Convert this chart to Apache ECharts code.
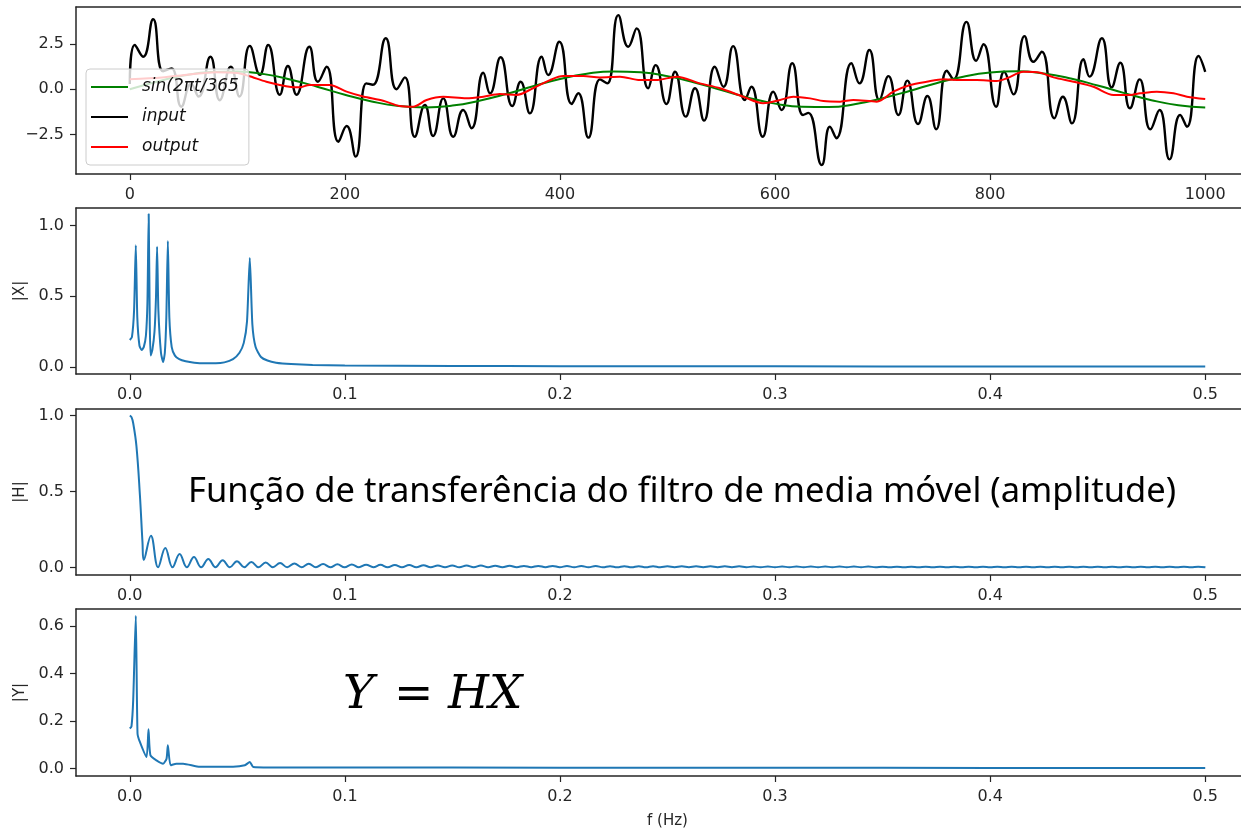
<!DOCTYPE html>
<html>
<head>
<meta charset="utf-8">
<script src="https://cdn.jsdelivr.net/npm/echarts@6/dist/echarts.min.js"></script>
<style>html,body{margin:0;background:#fff;overflow:hidden}#c{width:1300px;height:832px}</style>
</head>
<body>
<div id="c"></div>
<script>
// ---- panel 1: time signals (t, value) ----
const inputPts = [[0,0.3],[4.6,2.45],[12.4,1.8],[21.7,3.87],[31,1.0],[38.8,1.16],[48,-0.96],[57,0.3],[64,-0.4],[75,1.8],
  [83.7,-0.6],[94,1.25],[102,-0.4],[111.6,2.4],[121,0.8],[128.7,2.45],[139.5,-0.3],[147,1.29],[155,-0.3],[167,2.35],
  [175,0.42],[183,1.25],[194,-2.9],[201.6,-2.03],[210,-3.72],[220,0.33],[226,0.25],[238,2.82],[248,0],[255.8,0.66],
  [265,-2.62],[274.4,-0.87],[282,-2.58],[291.5,-0.5],[300.8,-2.62],[310,-1.14],[317.8,-2.15],[328.7,0.92],[335,-0.22],[344.8,1.77],
  [355.7,-0.92],[363.4,0.42],[372,-1.33],[383,1.8],[389,0.79],[399.4,2.63],[410.9,-0.81],[417,-0.22],[426.4,-2.67],[437.2,0.55],
  [444,0.33],[454.3,4.1],[463.5,2.35],[471.3,3.37],[482,0.06],[489,1.34],[499,-0.81],[507,0.97],[517,-1.51],[525.6,0.06],
  [534,-1.73],[544,1.25],[552,0.14],[561,2.39],[572,-0.59],[578,0.14],[588.5,-2.62],[598.4,-0.13],[606,-1.14],[616,1.44],
  [626,-1.42],[631,-1.3],[643.4,-4.18],[651,-2.07],[657,-2.7],[671,1.44],[678.5,0.33],[687.7,2.17],[697,-0.59],[705.4,0.73],
  [714.7,-1.42],[723,0.48],[733,-1.92],[741.7,-0.37],[749.8,-2.21],[759.7,1.03],[766,0.55],[778,3.73],[787,1.58],[793.8,2.49],
  [805.6,-0.96],[813,0.97],[821.7,-0.28],[832,2.94],[840.3,1.52],[848,2.08],[859.8,-1.6],[867.6,-0.41],[876,-1.88],[886.8,1.66],
  [892.4,0.7],[903.9,2.82],[913,0.11],[921,1.47],[930,-1.05],[939,0.55],[949,-2.21],[957.5,-1.14],[966.8,-3.87],[976.7,-1.42],
  [983,-2.07],[993.8,1.84],[1000,0.97]];

const sinPts = [[0,0],[25,0.42],[50,0.76],[75,0.96],[100,0.99],[125,0.84],[150,0.53],[175,0.13],[200,-0.3],[225,-0.67],
  [250,-0.92],[275,-1.0],[300,-0.9],[325,-0.63],[350,-0.26],[375,0.17],[400,0.57],[425,0.86],[450,0.99],[475,0.94],
  [500,0.73],[525,0.38],[550,-0.04],[575,-0.46],[600,-0.79],[625,-0.97],[650,-0.98],[675,-0.81],[700,-0.49],[725,-0.09],
  [750,0.34],[775,0.7],[800,0.93],[825,1.0],[850,0.88],[875,0.6],[900,0.21],[925,-0.21],[950,-0.6],[975,-0.88],[1000,-1.0]];

const outputPts = [[0,0.55],[30,0.65],[55,0.82],[80,0.95],[100,0.9],[110,0.75],[127,0.42],[139.5,0.24],[150,0.13],[158,0.11],
  [167,0.24],[186,0.24],[201.6,-0.13],[217,-0.4],[235.6,-0.63],[251,-0.92],[263.5,-0.96],[276,-0.59],[291.5,-0.41],[313,-0.5],
  [328.7,-0.41],[344,-0.26],[359.7,-0.31],[375,0.06],[390.7,0.51],[403,0.73],[421.7,0.73],[437,0.66],[455.8,0.7],[474.4,0.51],
  [489.4,0.51],[508.6,0.7],[530,0.33],[548.8,0.06],[570.5,-0.41],[589,-0.77],[604.7,-0.59],[617,-0.41],[632.6,-0.5],[645,-0.65],
  [660.5,-0.68],[672.8,-0.59],[694.6,-0.68],[710,-0.13],[725.6,0.24],[741,0.42],[756.6,0.55],[772,0.51],[787.6,0.51],[806,0.46],
  [815.5,0.61],[831,0.97],[846.5,0.92],[859,0.66],[877.5,0.42],[896,0.14],[914.7,-0.31],[930,-0.31],[939.5,-0.22],[955,-0.13],
  [970.5,-0.22],[983,-0.41],[1000,-0.54]];

// ---- panel 2: |X| (f, value) ----
const xMagPts = [[0,0.19],[0.001,0.21],[0.002,0.4],[0.0028,0.86],[0.0035,0.35],[0.0045,0.15],[0.0055,0.12],[0.0065,0.14],
  [0.0075,0.22],[0.0082,0.45],[0.0088,1.08],[0.0093,0.3],[0.0097,0.08],[0.0105,0.12],[0.0115,0.25],[0.0122,0.5],[0.0127,0.85],
  [0.0133,0.4],[0.0145,0.1],[0.0155,0.035],[0.0163,0.1],[0.017,0.35],[0.0177,0.89],[0.0184,0.35],[0.0195,0.14],[0.021,0.08],
  [0.023,0.055],[0.026,0.04],[0.03,0.03],[0.035,0.026],[0.04,0.026],[0.044,0.032],[0.048,0.055],[0.051,0.1],[0.053,0.17],
  [0.0545,0.32],[0.0558,0.77],[0.057,0.3],[0.0585,0.14],[0.061,0.07],[0.064,0.045],[0.068,0.03],[0.075,0.02],[0.085,0.013],
  [0.1,0.01],[0.15,0.007],[0.2,0.005],[0.3,0.004],[0.4,0.0035],[0.5,0.003]];

// ---- panel 3: |H| ----
const hMainLobe = [[0,1.0],[0.0008,0.99],[0.0016,0.95],[0.0031,0.8],[0.0047,0.48],[0.0059,0.17],[0.0065,0.05]];
const hRippleStart = 0.0065;   // first null
const hRipplePeriod = 0.00667; // spacing of the nulls
const hRippleFloor = 0.003;
const hRipplePeaks = [0.21,0.13,0.09,0.07,0.058,0.049,0.043,0.038,0.034,0.031,
  0.028,0.026,0.024,0.022,0.021,0.020,0.019,0.018,0.017,0.016,
  0.015,0.015,0.014,0.014,0.013,0.013,0.012,0.012,0.012,0.011,
  0.011,0.011,0.010,0.010,0.010,0.010,0.009,0.009,0.009,0.009,
  0.009,0.009,0.008,0.008,0.008,0.008,0.008,0.008,0.008,0.008,
  0.008,0.007,0.007,0.007,0.007,0.007,0.007,0.007,0.007,0.007,
  0.007,0.007,0.007,0.007,0.007,0.007,0.007,0.007,0.007,0.007,
  0.007,0.007,0.007,0.007];

// ---- panel 4: |Y| ----
const yMagPts = [[0,0.169],[0.0008,0.178],[0.0016,0.29],[0.0028,0.643],[0.0036,0.148],[0.0047,0.112],[0.0078,0.049],
  [0.0087,0.165],[0.0096,0.056],[0.0124,0.035],[0.0155,0.021],[0.0171,0.042],[0.0177,0.098],[0.019,0.014],[0.0217,0.021],
  [0.0248,0.021],[0.0326,0.008],[0.048,0.008],[0.0535,0.014],[0.0558,0.028],[0.0574,0.007],[0.065,0.005],[0.1,0.005],
  [0.2,0.004],[0.3,0.004],[0.4,0.003],[0.5,0.003]];

const timeTicks = [0,200,400,600,800,1000];
const freqTicks = [0,0.1,0.2,0.3,0.4,0.5];
const sigTicks = [-2.5,0,2.5];
const magTicks = [0,0.5,1.0];
const yTicks = [0,0.2,0.4,0.6];

const hPts = hMainLobe.slice();
hRipplePeaks.forEach((p, k) => {
  hPts.push([hRippleStart + (k + 0.5) * hRipplePeriod, p]);
  hPts.push([hRippleStart + (k + 1) * hRipplePeriod, hRippleFloor]);
});

const AX = '#262626';
const FONT = 'DejaVu Sans';
const num1 = v => (v < 0 ? '\u2212' : '') + Math.abs(v).toFixed(1);
const spine = () => ({show: true, onZero: false, lineStyle: {color: AX, width: 1.5}});

function xAx(gi, min, max, ticks, fmt, extra) {
  return Object.assign({
    type: 'value', gridIndex: gi, min, max, position: 'bottom',
    axisLine: spine(), splitLine: {show: false},
    axisTick: {show: true, customValues: ticks, length: 6, lineStyle: {color: AX, width: 1.2}},
    axisLabel: {customValues: ticks, formatter: fmt, color: AX, fontSize: 16, fontFamily: FONT, margin: 13}
  }, extra || {});
}
// top spine only
const topAx = (gi, min, max) => ({
  type: 'value', gridIndex: gi, min, max, position: 'top',
  axisLine: spine(), axisTick: {show: false}, axisLabel: {show: false}, splitLine: {show: false}
});
function yAx(gi, min, max, ticks, name) {
  return {
    type: 'value', gridIndex: gi, min, max, position: 'left',
    axisLine: spine(), splitLine: {show: false},
    axisTick: {show: true, customValues: ticks, length: 6, lineStyle: {color: AX, width: 1.2}},
    axisLabel: {customValues: ticks, formatter: num1, color: AX, fontSize: 16, fontFamily: FONT, margin: 12},
    name: name || '', nameLocation: 'middle', nameGap: 47, nameRotate: 90,
    nameTextStyle: {color: AX, fontSize: 15, fontFamily: FONT}
  };
}
// the axes run past the right edge of the picture, as in the original figure
const gridBase = {left: 76, width: 1183, show: false, outerBoundsMode: 'none', containLabel: false};
const line = (name, data, color, width, xi, smooth) => ({
  name, type: 'line', data, xAxisIndex: xi, yAxisIndex: xi, symbol: 'none', smooth,
  lineStyle: {color, width}, itemStyle: {color}, animation: false
});

const chart = echarts.init(document.getElementById('c'), null, {renderer: 'canvas'});
chart.setOption({
  animation: false,
  grid: [
    Object.assign({top: 7, height: 167}, gridBase),
    Object.assign({top: 208, height: 166}, gridBase),
    Object.assign({top: 409, height: 166}, gridBase),
    Object.assign({top: 609, height: 167}, gridBase)
  ],
  xAxis: [
    xAx(0, -50, 1050, timeTicks, v => String(v)),
    xAx(1, -0.025, 0.525, freqTicks, num1),
    xAx(2, -0.025, 0.525, freqTicks, num1),
    xAx(3, -0.025, 0.525, freqTicks, num1, {name: 'f (Hz)', nameLocation: 'middle', nameGap: 38,
      nameTextStyle: {color: AX, fontSize: 15, fontFamily: FONT}}),
    topAx(0, -50, 1050), topAx(1, -0.025, 0.525), topAx(2, -0.025, 0.525), topAx(3, -0.025, 0.525)
  ],
  yAxis: [
    yAx(0, -4.68, 4.55, sigTicks),
    yAx(1, -0.05, 1.123, magTicks, '|X|'),
    yAx(2, -0.048, 1.044, magTicks, '|H|'),
    yAx(3, -0.031, 0.671, yTicks, '|Y|')
  ],
  legend: {
    data: ['sin(2πt/365', 'input', 'output'],
    orient: 'vertical', left: 86, top: 69,
    icon: 'rect', itemWidth: 37, itemHeight: 2, itemGap: 10,
    padding: [8, 10, 8, 5],
    backgroundColor: 'rgba(255,255,255,0.8)', borderColor: '#cccccc', borderWidth: 1, borderRadius: 4,
    textStyle: {fontSize: 17, lineHeight: 20, fontStyle: 'italic', fontFamily: FONT, color: '#111', padding: [0, 0, 0, 9]}
  },
  series: [
    line('input', inputPts, '#000000', 2.4, 0, 0.5),
    line('sin(2πt/365', sinPts, '#008000', 2, 0, 0.5),
    line('output', outputPts, '#ff0000', 2, 0, 0.3),
    line('|X|', xMagPts, '#1f77b4', 2, 1, 0.2),
    line('|H|', hPts, '#1f77b4', 2, 2, 0.4),
    line('|Y|', yMagPts, '#1f77b4', 2, 3, 0.2)
  ],
  graphic: [
    {type: 'text', left: 188, top: 475, z: 100,
      style: {text: 'Função de transferência do filtro de media móvel (amplitude)', fontSize: 34.5,
        fontFamily: 'Noto Sans', fill: '#000'}},
    {type: 'text', left: 343, top: 672, z: 100,
      style: {text: 'Y', fontSize: 47, fontStyle: 'italic', fontFamily: 'DejaVu Serif', fill: '#000'}},
    {type: 'text', left: 394, top: 672, z: 100,
      style: {text: '=', fontSize: 47, fontFamily: 'DejaVu Serif', fill: '#000'}},
    {type: 'text', left: 448, top: 672, z: 100,
      style: {text: 'HX', fontSize: 47, fontStyle: 'italic', fontFamily: 'DejaVu Serif', fill: '#000'}}
  ]
});
</script>
</body>
</html>
